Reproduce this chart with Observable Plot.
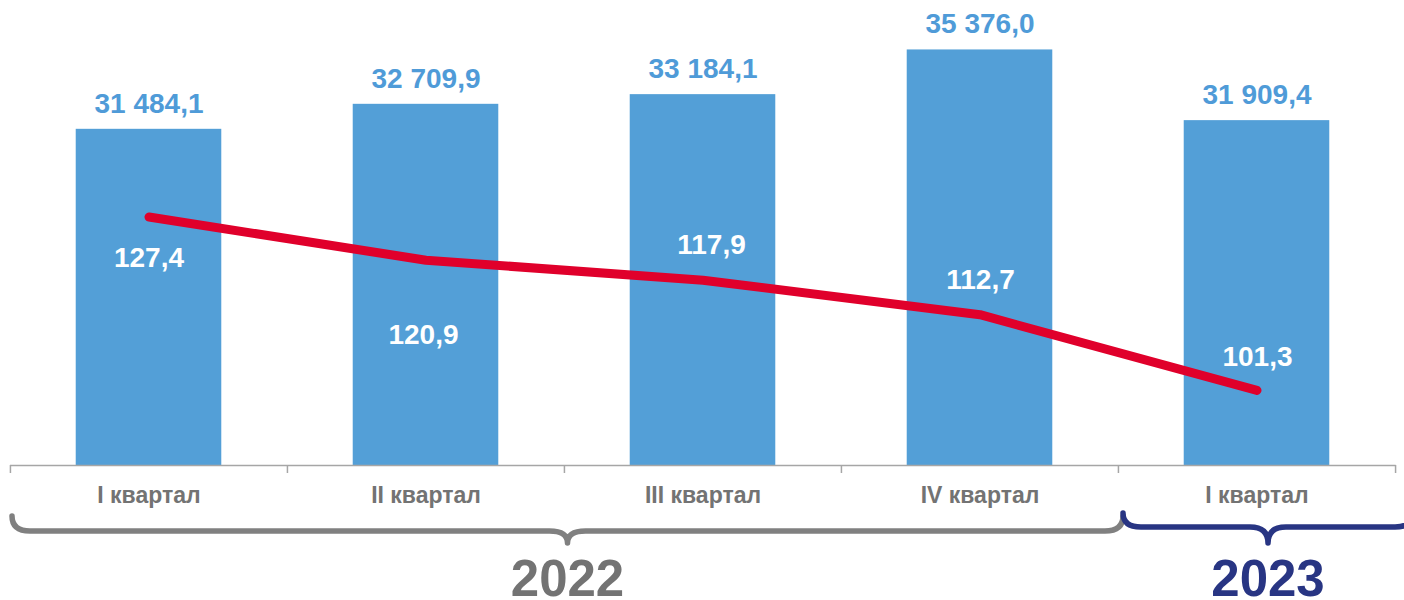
<!DOCTYPE html>
<html><head><meta charset="utf-8">
<script src="https://cdn.jsdelivr.net/npm/d3@7"></script>
<script src="https://cdn.jsdelivr.net/npm/@observablehq/plot@0.6"></script>
<style>body{margin:0;background:#fff;}#chart svg{display:block;}</style>
</head><body><div id="chart"></div>
<script>
// ---- data ----
const quarters = ["I квартал", "II квартал", "III квартал", "IV квартал", "I квартал"];
const years = ["2022", "2022", "2022", "2022", "2023"];
const volumes = [31484.1, 32709.9, 33184.1, 35376.0, 31909.4];
const indices = [127.4, 120.9, 117.9, 112.7, 101.3];
const yearGroups = ["2022", "2023"];
const volumeDomain = [15000, 37800];
const indexDomain = [90, 160];

// ---- style ----
const W = 1404, H = 600, mL = 10, mR = 8.3, mT = 0, mB = 135;
const BAR = "#539fd7", BAR_TEXT = "#4f9bd8", RED = "#e0002b";
const AXIS = "#a6a6a6", CAT = "#737373";
const yearColor = {"2022": "#737373", "2023": "#283583"};
const braceColor = {"2022": "#808080", "2023": "#283583"};
const braceExt = {"2022": [2, 5], "2023": [5, 18]};
const braceY = {"2022": [516, 531], "2023": [513, 527]};
const lineLabelDx = [0, -2.5, 8.5, 0.5, 0.5];
const lineLabelDy = [50, 83.3, -26.4, -25.9, -24.9];
const FONT = "'Liberation Sans', Arial, sans-serif";

const loc = d3.formatLocale({decimal: ",", thousands: "\u00a0", grouping: [3], currency: ["", ""]});
const fmt = loc.format(",.1f");
const rows = quarters.map((q, i) => ({key: years[i] + " " + q, quarter: q, year: years[i], volume: volumes[i], index: indices[i]}));
// secondary (index) axis mapped onto the volume axis
const toY = v => volumeDomain[0] + (v - indexDomain[0]) / (indexDomain[1] - indexDomain[0]) * (volumeDomain[1] - volumeDomain[0]);

const step = (W - mL - mR) / rows.length;
const half = step / 2;
const barWidth = 145.7;
const inset = (step - barWidth) / 2;

const chart = Plot.plot({
  width: W, height: H, marginLeft: mL, marginRight: mR, marginTop: mT, marginBottom: mB,
  style: {fontFamily: FONT, background: "#fff", overflow: "visible"},
  x: {domain: rows.map(d => d.key), padding: 0, axis: null},
  y: {domain: volumeDomain, axis: null},
  marks: [
    Plot.barY(rows, {x: "key", y1: volumeDomain[0], y2: "volume", fill: BAR, insetLeft: inset, insetRight: inset}),
    Plot.ruleY([volumeDomain[0]], {stroke: AXIS, strokeWidth: 1.5}),
    Plot.ruleX(rows, {x: "key", y1: volumeDomain[0], y2: volumeDomain[0], insetBottom: -8, dx: -half, stroke: AXIS, strokeWidth: 1.5}),
    Plot.ruleX(rows.slice(-1), {x: "key", y1: volumeDomain[0], y2: volumeDomain[0], insetBottom: -8, dx: half, stroke: AXIS, strokeWidth: 1.5}),
    Plot.text(rows, {x: "key", y: "volume", text: d => fmt(d.volume), dy: -16.5, lineAnchor: "bottom", fill: BAR_TEXT, fontSize: 28, fontWeight: "bold"}),
    Plot.line(rows, {x: "key", y: d => toY(d.index), stroke: RED, strokeWidth: 9, strokeLinecap: "round", strokeLinejoin: "round"}),
    ...rows.map((r, i) => Plot.text([r], {x: "key", y: d => toY(d.index), text: d => fmt(d.index), dx: lineLabelDx[i], dy: lineLabelDy[i], lineAnchor: "bottom", fill: "#fff", fontSize: 28, fontWeight: "bold"})),
    Plot.text(rows, {x: "key", text: "quarter", frameAnchor: "bottom", dy: 37.7, lineAnchor: "bottom", fill: CAT, fontSize: 23, fontWeight: "bold"})
  ]
});
document.getElementById("chart").append(chart);

// braces and year labels, positioned from Plot's x scale
const xs = chart.scale("x");
const svg = d3.select(chart);
for (const yr of yearGroups) {
  const keys = rows.filter(r => r.year === yr).map(r => r.key);
  const x0 = xs.apply(keys[0]) + braceExt[yr][0];
  const x1 = xs.apply(keys[keys.length - 1]) + xs.bandwidth + braceExt[yr][1];
  const xm = (x0 + x1) / 2;
  const [yTop, yh] = braceY[yr];
  const yDip = 543, rc = 18, rd = 18;
  const p = `M${x0},${yTop} Q${x0},${yh} ${x0 + rc},${yh} L${xm - rd},${yh} Q${xm},${yh} ${xm},${yDip} Q${xm},${yh} ${xm + rd},${yh} L${x1 - rc},${yh} Q${x1},${yh} ${x1},${yTop}`;
  svg.append("path").attr("d", p).attr("fill", "none").attr("stroke", braceColor[yr])
    .attr("stroke-width", 5.5).attr("stroke-linejoin", "round").attr("stroke-linecap", "round");
  svg.append("text").attr("x", xm).attr("y", 596).attr("text-anchor", "middle")
    .attr("font-size", 51).attr("font-weight", "bold").attr("fill", yearColor[yr])
    .attr("font-family", FONT).text(yr);
}
</script></body></html>
